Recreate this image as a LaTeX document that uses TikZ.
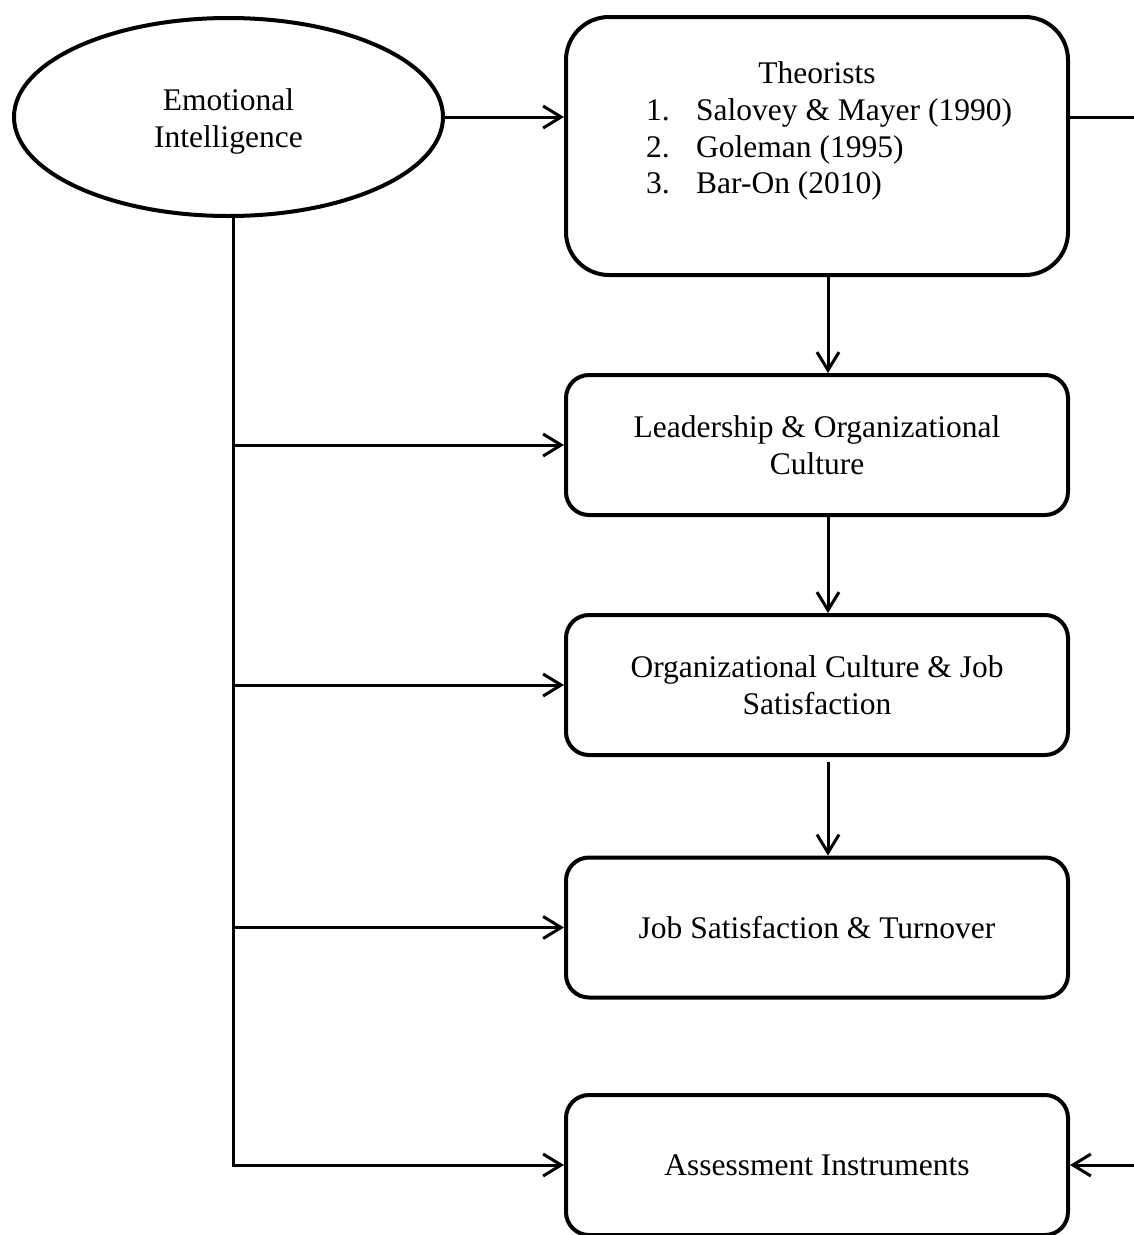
\documentclass[tikz,border=0pt]{standalone}
\usepackage{fontspec}
\setmainfont{Liberation Serif}
\usetikzlibrary{arrows.meta,shapes.geometric}
\begin{document}
\begin{tikzpicture}[x=1pt,y=-1pt,
  conn/.style={line width=3pt},
  arr/.style={conn, -{Straight Barb[length=18pt,width=22pt]}},
  box/.style={draw, line width=4pt, rounded corners=23pt, minimum width=502pt, minimum height=140pt, inner sep=0pt},
  txt/.style={font=\fontsize{31.5pt}{37pt}\selectfont, align=center, inner sep=0pt},
]
\useasboundingbox (0,0) rectangle (1134,1235);
% coordinates for connector columns
\coordinate (tx) at (233,0);
\coordinate (ax) at (828,0);
\coordinate (rx) at (1137,0);
% ellipse
\node[draw, ellipse, line width=4pt, minimum width=429pt, minimum height=198pt, inner sep=0pt] (ei) at (228.5,117) {};
\node[txt] (eit) at ([yshift=-4pt]ei.center) {Emotional\\Intelligence};
% theorists box
\node[box, rounded corners=43pt, minimum height=258pt] (th) at (817,146) {};
\node[txt, anchor=base] (tht) at (817,83) {Theorists};
\node[txt, anchor=base west] (th1) at (646,120) {\makebox[50pt][l]{1.}Salovey \& Mayer (1990)};
\node[txt, anchor=base west] (th2) at (646,157) {\makebox[50pt][l]{2.}Goleman (1995)};
\node[txt, anchor=base west] (th3) at (646,193) {\makebox[50pt][l]{3.}Bar-On (2010)};
% other boxes
\node[box, txt, draw, line width=4pt] (ld) at (817,445) {Leadership \& Organizational\\Culture};
\node[box, txt, draw, line width=4pt] (oc) at (817,685) {Organizational Culture \& Job\\Satisfaction};
\node[box, txt, draw, line width=4pt] (js) at (817,927.5) {Job Satisfaction \& Turnover};
\node[box, txt, draw, line width=4pt] (as) at (817,1165) {Assessment Instruments};
% connectors
\draw[arr] (ei.east) -- (ei.east -| th.west);
\draw[arr] (th.east |- ei.east) -- (ei.east -| rx) -- (as.east -| rx) -- (as.east);
\draw[arr] (th.south -| ax) -- (ld.north -| ax);
\draw[arr] (ld.south -| ax) -- (oc.north -| ax);
\draw[arr, shorten <=5pt] (oc.south -| ax) -- (js.north -| ax);
\draw[arr] (ei.south -| tx) -- (as.west -| tx) -- (as.west);
\draw[arr] (ld.west -| tx) -- (ld.west);
\draw[arr] (oc.west -| tx) -- (oc.west);
\draw[arr] (js.west -| tx) -- (js.west);
\end{tikzpicture}
\end{document}
